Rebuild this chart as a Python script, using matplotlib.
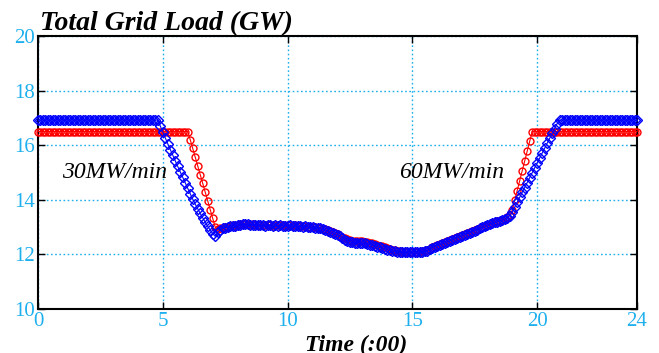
import numpy as np
import matplotlib
matplotlib.use("Agg")
import matplotlib.pyplot as plt

# Load sampled every 0.1 h, from 0:00 to 24:00
blue_load = [
    16.92, 16.92, 16.92, 16.92, 16.92, 16.92, 16.92, 16.92, 16.92, 16.92,
    16.92, 16.92, 16.92, 16.92, 16.92, 16.92, 16.92, 16.92, 16.92, 16.92,
    16.92, 16.92, 16.92, 16.92, 16.92, 16.92, 16.92, 16.92, 16.92, 16.92,
    16.92, 16.92, 16.92, 16.92, 16.92, 16.92, 16.92, 16.92, 16.92, 16.92,
    16.92, 16.92, 16.92, 16.92, 16.92, 16.92, 16.92, 16.92, 16.92,
    16.70, 16.48, 16.27, 16.05, 15.84, 15.63, 15.42, 15.22, 15.02, 14.82,
    14.62, 14.42, 14.22, 14.02, 13.84, 13.67, 13.50, 13.34, 13.18, 13.03,
    12.89, 12.76, 12.66,
    12.82, 12.90, 12.95, 12.98, 13.00, 13.03, 13.05, 13.04, 13.07, 13.09,
    13.11, 13.12, 13.10, 13.08, 13.09, 13.07, 13.06, 13.08, 13.06, 13.05,
    13.07, 13.06, 13.04, 13.06, 13.05, 13.07, 13.05, 13.04, 13.05, 13.06,
    13.04, 13.05, 13.03, 13.04, 13.02, 13.03, 13.01, 13.00, 12.99, 12.98,
    12.96, 12.95, 12.92, 12.90, 12.86, 12.83, 12.79, 12.75, 12.71, 12.66,
    12.60, 12.54, 12.49, 12.46, 12.44, 12.43, 12.43, 12.42, 12.41, 12.40,
    12.38, 12.36, 12.33, 12.30, 12.28, 12.26, 12.23, 12.20, 12.17, 12.15,
    12.13, 12.11, 12.10, 12.08, 12.07, 12.08, 12.09, 12.08, 12.09, 12.08,
    12.09, 12.08, 12.10, 12.11, 12.14, 12.19, 12.24, 12.28, 12.32, 12.35,
    12.39, 12.42, 12.46, 12.49, 12.53, 12.57, 12.61, 12.64, 12.68, 12.72,
    12.76, 12.79, 12.83, 12.87, 12.91, 12.95, 12.99, 13.03, 13.07, 13.11,
    13.14, 13.17, 13.19, 13.22, 13.25, 13.29, 13.34, 13.42,
    13.55, 13.73, 13.91, 14.09, 14.27, 14.45, 14.63, 14.81, 14.99, 15.17,
    15.35, 15.53, 15.71, 15.89, 16.07, 16.25, 16.43, 16.61, 16.79, 16.92,
    16.92, 16.92, 16.92, 16.92, 16.92, 16.92, 16.92, 16.92, 16.92, 16.92,
    16.92, 16.92, 16.92, 16.92, 16.92, 16.92, 16.92, 16.92, 16.92, 16.92,
    16.92, 16.92, 16.92, 16.92, 16.92, 16.92, 16.92, 16.92, 16.92, 16.92,
    16.92,
]

red_load = [
    16.50, 16.50, 16.50, 16.50, 16.50, 16.50, 16.50, 16.50, 16.50, 16.50,
    16.50, 16.50, 16.50, 16.50, 16.50, 16.50, 16.50, 16.50, 16.50, 16.50,
    16.50, 16.50, 16.50, 16.50, 16.50, 16.50, 16.50, 16.50, 16.50, 16.50,
    16.50, 16.50, 16.50, 16.50, 16.50, 16.50, 16.50, 16.50, 16.50, 16.50,
    16.50, 16.50, 16.50, 16.50, 16.50, 16.50, 16.50, 16.50, 16.50, 16.50,
    16.50, 16.50, 16.50, 16.50, 16.50, 16.50, 16.50, 16.50, 16.50, 16.50,
    16.50,
    16.20, 15.88, 15.56, 15.24, 14.92, 14.60, 14.28, 13.96, 13.64, 13.32,
    13.00,
    12.93, 12.95, 12.97, 13.00, 13.01, 13.04, 13.06, 13.05, 13.08, 13.10,
    13.12, 13.13, 13.11, 13.09, 13.10, 13.08, 13.07, 13.09, 13.07, 13.06,
    13.08, 13.07, 13.05, 13.07, 13.06, 13.08, 13.06, 13.05, 13.06, 13.07,
    13.05, 13.06, 13.04, 13.05, 13.03, 13.04, 13.02, 13.01, 13.00, 12.99,
    12.97, 12.96, 12.94, 12.92, 12.88, 12.85, 12.81, 12.77, 12.74, 12.69,
    12.64, 12.59, 12.55, 12.52, 12.50, 12.50, 12.49, 12.49, 12.48, 12.47,
    12.46, 12.43, 12.40, 12.37, 12.34, 12.32, 12.29, 12.26, 12.23, 12.20,
    12.17, 12.15, 12.13, 12.11, 12.10, 12.10, 12.10, 12.10, 12.10, 12.10,
    12.10, 12.10, 12.11, 12.13, 12.16, 12.21, 12.26, 12.30, 12.34, 12.37,
    12.41, 12.44, 12.48, 12.51, 12.55, 12.59, 12.63, 12.66, 12.70, 12.74,
    12.78, 12.81, 12.85, 12.89, 12.93, 12.97, 13.01, 13.05, 13.09, 13.13,
    13.16, 13.19, 13.21, 13.24, 13.27, 13.31, 13.36, 13.45,
    13.62, 13.98, 14.34, 14.70, 15.06, 15.42, 15.78, 16.14, 16.50,
    16.50, 16.50, 16.50, 16.50, 16.50, 16.50, 16.50, 16.50, 16.50, 16.50,
    16.50, 16.50, 16.50, 16.50, 16.50, 16.50, 16.50, 16.50, 16.50, 16.50,
    16.50, 16.50, 16.50, 16.50, 16.50, 16.50, 16.50, 16.50, 16.50, 16.50,
    16.50, 16.50, 16.50, 16.50, 16.50, 16.50, 16.50, 16.50, 16.50, 16.50,
    16.50, 16.50,
]

hours = np.arange(len(blue_load)) / 10.0

x_ticks = [0, 5, 10, 15, 20, 24]
y_ticks = [10, 12, 14, 16, 18, 20]

title_text = "Total Grid Load (GW)"
xlabel_text = "Time (:00)"
note_left = "30MW/min"
note_right = "60MW/min"

cyan = "#1EB0EE"
serif = ["Liberation Serif", "DejaVu Serif"]

fig = plt.figure(figsize=(6.59, 3.53), dpi=100)
ax = fig.add_axes([38 / 659, 1 - 309 / 353, 599 / 659, 273 / 353])

ax.plot(hours, red_load, color="red", marker="o", ms=5.0, mfc="none", mew=1.0,
        lw=0.8, clip_on=False, zorder=3)
ax.plot(hours, blue_load, color="blue", marker="D", ms=4.6, mfc="none", mew=1.0,
        lw=0.8, clip_on=False, zorder=4)

ax.set_xlim(0, 24)
ax.set_ylim(10, 20)
ax.set_xticks(x_ticks)
ax.set_yticks(y_ticks)
ax.set_xticklabels([str(v) for v in x_ticks])
ax.set_yticklabels([str(v) for v in y_ticks])
ax.tick_params(direction="in", length=5, width=1, colors="black",
               top=True, right=True, labelcolor=cyan, labelsize=15, pad=2)
for lab in ax.get_xticklabels() + ax.get_yticklabels():
    lab.set_fontfamily(serif)

ax.grid(True, color=cyan, linestyle=(0, (1.2, 1.8)), linewidth=1.0)
ax.set_axisbelow(True)
for sp in ax.spines.values():
    sp.set_linewidth(1.5)
    sp.set_color("black")

fig.text(40 / 659, 1 - 30 / 353, title_text, fontsize=20, fontweight="bold",
         fontstyle="italic", family=serif, ha="left", va="baseline")
fig.text(356 / 659, 1 - 351 / 353, xlabel_text, fontsize=17, fontweight="bold",
         fontstyle="italic", family=serif, ha="center", va="baseline")

ax.text(0.95, 15.0, note_left, fontsize=17, fontstyle="italic", family=serif,
        ha="left", va="center")
ax.text(14.45, 15.0, note_right, fontsize=17, fontstyle="italic", family=serif,
        ha="left", va="center")

fig.savefig("out.png", dpi=100)
